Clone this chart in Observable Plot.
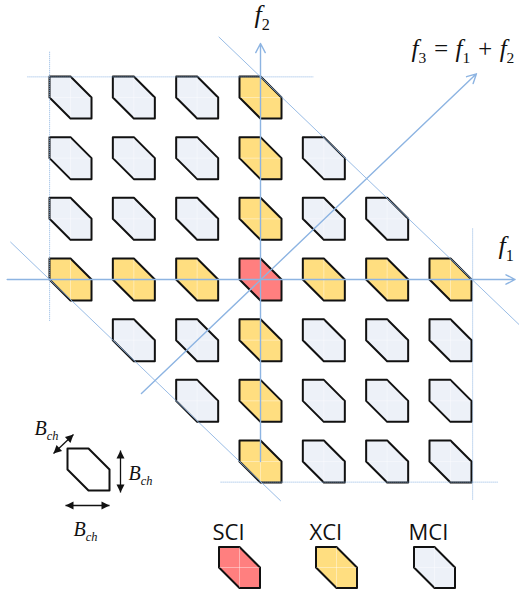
<!DOCTYPE html>
<html><head><meta charset="utf-8">
<script src="https://cdn.jsdelivr.net/npm/d3@7"></script>
<script src="https://cdn.jsdelivr.net/npm/@observablehq/plot@0.6"></script>
<style>body{margin:0;background:#fff}</style>
</head><body><div id="chart"></div>
<script>
// ---- data (diagram coordinates in channel units f1, f2) ----
const cellF1 = [-3,-2,-1,0, -3,-2,-1,0,1, -3,-2,-1,0,1,2, -3,-2,-1,0,1,2,3, -2,-1,0,1,2,3, -1,0,1,2,3, 0,1,2,3];
const cellF2 = [3,3,3,3, 2,2,2,2,2, 1,1,1,1,1,1, 0,0,0,0,0,0,0, -1,-1,-1,-1,-1,-1, -2,-2,-2,-2,-2, -3,-3,-3,-3];
const cellType = [
  "MCI","MCI","MCI","XCI",
  "MCI","MCI","MCI","XCI","MCI",
  "MCI","MCI","MCI","XCI","MCI","MCI",
  "XCI","XCI","XCI","SCI","XCI","XCI","XCI",
  "MCI","MCI","XCI","MCI","MCI","MCI",
  "MCI","XCI","MCI","MCI","MCI",
  "XCI","MCI","MCI","MCI"];
const typeNames = ["SCI","XCI","MCI"];
const typeColors = ["#FF7F7F","#FFDE80","#EDF1F8"];

// axes (arrows)
const axisX1 = [-4.0, 0, -1.88];
const axisY1 = [0, -3, -1.88];
const axisX2 = [4.02, 0, 3.41];
const axisY2 = [0, 3.89, 3.39];
const axisLabels = ["f_1", "f_2", "f_3 = f_1 + f_2"];

// diagonal boundaries f1+f2 = ±3.33
const edgeX1 = [-3.95, -0.66];
const edgeY1 = [0.62, 4.0];
const edgeX2 = [0.32, 4.09];
const edgeY2 = [-3.65, -0.75];

// dotted boundaries |f1| = 3.33, |f2| = 3.33
const dotX1 = [-3.68, -3.33, 3.35, -0.63];
const dotY1 = [3.34, -0.68, 0.84, -3.34];
const dotX2 = [0.84, -3.33, 3.35, 3.76];
const dotY2 = [3.34, 3.77, -3.64, -3.34];

const keyLabel = "B_ch";

// ---- layout (pixels) ----
const W = 519, H = 593;
const OX = 260, OY = 279, SX = 63.33, SY = 60.67;
const X = px => (px - OX) / SX;
const Y = py => (OY - py) / SY;

const labelPos = [ {x: 498, y: 253, fs: 26}, {x: 254, y: 22, fs: 26}, {x: 411, y: 56, fs: 25} ];
const legendPos = [ {tx: 212, cx: 239}, {tx: 309, cx: 336}, {tx: 408, cx: 434} ];
const legendTextY = 539, legendCellY = 567;
const keyHex = {x: 88, y: 469};
const keyArrows = [ {x1: 53, y1: 453, x2: 73, y2: 434}, {x1: 120, y1: 450, x2: 120, y2: 492}, {x1: 65, y1: 505, x2: 109, y2: 505} ];
const keyLabels = [ {x: 34, y: 434}, {x: 128, y: 479}, {x: 73, y: 535} ];

const hexSymbol = { draw(ctx, size) { const h = Math.sqrt(size / Math.PI);
  ctx.moveTo(-h, -h); ctx.lineTo(0, -h); ctx.lineTo(h, 0); ctx.lineTo(h, h); ctx.lineTo(0, h); ctx.lineTo(-h, 0); ctx.closePath(); } };
const crossSymbol = { draw(ctx, size) { const h = Math.sqrt(size / Math.PI);
  ctx.moveTo(0, -h); ctx.lineTo(0, h); ctx.moveTo(-h, 0); ctx.lineTo(h, 0); } };
const headSymbol = { draw(ctx, size) { const h = Math.sqrt(size / Math.PI);
  ctx.moveTo(0, 0); ctx.lineTo(-0.5 * h, h); ctx.lineTo(0.5 * h, h); ctx.closePath(); } };

const cells = cellF1.map((f1, i) => ({f1, f2: cellF2[i], type: cellType[i]}));
const axes = axisX1.map((x1, i) => ({x1, y1: axisY1[i], x2: axisX2[i], y2: axisY2[i]}));
const edges = edgeX1.map((x1, i) => ({x1, y1: edgeY1[i], x2: edgeX2[i], y2: edgeY2[i]}));
const dotted = dotX1.map((x1, i) => ({x1, y1: dotY1[i], x2: dotX2[i], y2: dotY2[i]}));
const labels = axisLabels.map((t, i) => ({t, x: X(labelPos[i].x), y: Y(labelPos[i].y), fs: labelPos[i].fs}));
const legend = typeNames.map((t, i) => ({t, tx: X(legendPos[i].tx), cx: X(legendPos[i].cx)}));
const kArrows = keyArrows.map(a => ({x1: X(a.x1), y1: Y(a.y1), x2: X(a.x2), y2: Y(a.y2),
  ang: Math.atan2(a.x2 - a.x1, -(a.y2 - a.y1)) * 180 / Math.PI}));
const kHeads = kArrows.flatMap(a => [{x: a.x2, y: a.y2, r: a.ang}, {x: a.x1, y: a.y1, r: a.ang + 180}]);
const kLabels = keyLabels.map(p => ({t: keyLabel, x: X(p.x), y: Y(p.y)}));

const color = {domain: typeNames, range: typeColors};
const blue = "#8DB4E2";

const chart = Plot.plot({
  width: W, height: H, margin: 0,
  x: {domain: [X(0), X(W)], axis: null},
  y: {domain: [Y(H), Y(0)], axis: null},
  color,
  style: {background: "white"},
  marks: [
    Plot.dot(cells, {x: "f1", y: "f2", r: 21, symbol: hexSymbol, fill: "type", stroke: "#111", strokeWidth: 2, strokeLinejoin: "round"}),
    Plot.dot(cells, {x: "f1", y: "f2", r: 20, symbol: crossSymbol, fill: "none", stroke: "white", strokeOpacity: 0.4, strokeWidth: 1}),
    Plot.link(dotted, {x1: "x1", y1: "y1", x2: "x2", y2: "y2", stroke: blue, strokeWidth: 1, strokeDasharray: "1,1"}),
    Plot.link(edges, {x1: "x1", y1: "y1", x2: "x2", y2: "y2", stroke: blue, strokeWidth: 0.9}),
    Plot.arrow(axes, {x1: "x1", y1: "y1", x2: "x2", y2: "y2", stroke: blue, strokeWidth: 1.4, headLength: 11, headAngle: 55}),
    Plot.text(labels, {x: "x", y: "y", text: "t", fontSize: d => d.fs, textAnchor: "start", lineAnchor: "bottom", fontFamily: "Liberation Serif", fontStyle: "italic", fill: "#111"}),
    // legend
    Plot.text(legend, {x: "tx", y: Y(legendTextY), text: "t", textAnchor: "start", lineAnchor: "bottom", fontFamily: "Open Sans", fontSize: 22, fill: "#111"}),
    Plot.dot(legend, {x: "cx", y: Y(legendCellY), r: 20.5, symbol: hexSymbol, fill: "t", stroke: "#111", strokeWidth: 2, strokeLinejoin: "round"}),
    Plot.dot(legend, {x: "cx", y: Y(legendCellY), r: 20, symbol: crossSymbol, fill: "none", stroke: "white", strokeOpacity: 0.4, strokeWidth: 1}),
    // key
    Plot.dot([keyHex], {x: d => X(d.x), y: d => Y(d.y), r: 21, symbol: hexSymbol, fill: "white", stroke: "#111", strokeWidth: 2, strokeLinejoin: "round"}),
    Plot.link(kArrows, {x1: "x1", y1: "y1", x2: "x2", y2: "y2", stroke: "#111", strokeWidth: 1.3}),
    Plot.dot(kHeads, {x: "x", y: "y", rotate: "r", r: 8, symbol: headSymbol, fill: "#111", stroke: "none"}),
    Plot.text(kLabels, {x: "x", y: "y", text: "t", fontSize: 20, textAnchor: "start", lineAnchor: "bottom", fontFamily: "Liberation Serif", fontStyle: "italic", fill: "#111"})
  ]
});
document.getElementById("chart").appendChild(chart);

// subscripts: a_b -> a with subscript b
chart.querySelectorAll("text").forEach(t => {
  const s = t.textContent;
  if (!s.includes("_")) return;
  const fs = parseFloat(getComputedStyle(t).fontSize) || 20;
  const parts = s.split(/_(\w+)/);
  t.textContent = "";
  t.style.whiteSpace = "pre";
  const shift = 0.27 * fs;
  parts.forEach((p, i) => {
    if (!p) return;
    const ts = document.createElementNS("http://www.w3.org/2000/svg", "tspan");
    ts.textContent = p;
    if (i % 2 === 1) {
      ts.setAttribute("dy", shift);
      ts.setAttribute("font-size", 0.62 * fs);
      if (/^\d+$/.test(p)) ts.setAttribute("font-style", "normal");
    } else if (i > 0) {
      ts.setAttribute("dy", -shift);
    }
    t.appendChild(ts);
  });
});
</script></body></html>
